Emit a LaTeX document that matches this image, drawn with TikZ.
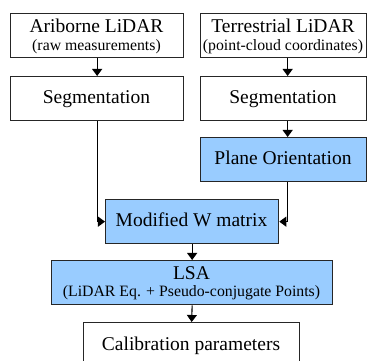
\documentclass[tikz,border=0pt]{standalone}
\usepackage{fontspec}
\setmainfont{Liberation Serif}
\usetikzlibrary{arrows.meta}
\definecolor{boxblue}{RGB}{153,204,255}
\begin{document}
\begin{tikzpicture}[x=1pt,y=-1pt,
  box/.style={draw=black!85, line width=1.3pt, minimum height=44pt, inner sep=0pt, anchor=north west},
  bluebox/.style={box, fill=boxblue},
  maintext/.style={font=\fontsize{19.5}{22}\selectfont, inner sep=0pt},
  subtext/.style={font=\fontsize{15.8}{18}\selectfont, inner sep=0pt},
  arr/.style={line width=1.1pt, -{Triangle[length=7pt,width=10pt]}}]
\clip (0,0) rectangle (368,361);
% boxes
\node[box, minimum width=173pt] (a1) at (10,13) {};
\node[box, minimum width=166pt] (t1) at (200,13) {};
\node[box, minimum width=173pt] (s1) at (10,76) {};
\node[box, minimum width=166pt] (s2) at (200,76) {};
\node[bluebox, minimum width=166pt] (p) at (200,137) {};
\node[bluebox, minimum width=173pt] (w) at (105,199) {};
\node[bluebox, minimum width=281pt] (lsa) at (51,260) {};
\node[box, minimum width=216pt] (cal) at (83,322) {};
% texts
\node[maintext, anchor=base] (a1t) at (96.5,32.7) {Ariborne LiDAR};
\node[subtext, anchor=base] (a1s) at (96.5,50.5) {(raw measurements)};
\node[maintext, anchor=base] (t1t) at (283,32.7) {Terrestrial LiDAR};
\node[subtext, anchor=base] (t1s) at (283,50.5) {(point-cloud coordinates)};
\node[maintext, anchor=base] (s1t) at (96.5,104) {Segmentation};
\node[maintext, anchor=base] (s2t) at (283,104) {Segmentation};
\node[maintext, anchor=base] (pt) at (283,165) {Plane Orientation};
\node[maintext, anchor=base] (wt) at (191.5,227) {Modified W matrix};
\node[maintext, anchor=base] (lsat) at (191.5,279.3) {LSA};
\node[subtext, anchor=base] (lsas) at (191.5,297) {(LiDAR Eq. + Pseudo-conjugate Points)};
\node[maintext, anchor=base] (calt) at (191,351) {Calibration parameters};
% connectors
\draw[arr] (a1.south) -- (s1.north);
\draw[arr] ([xshift=4pt]t1.south) -- ([xshift=4pt]s2.north);
\draw[arr] ([xshift=4pt]s2.south) -- ([xshift=4pt]p.north);
\draw[arr] (s1.south) |- (w.west);
\draw[arr] ([xshift=4pt]p.south) |- (w.east);
\draw[arr] (w.south) -- (lsa.north);
\draw[arr] (lsa.south) -- (cal.north);
\end{tikzpicture}
\end{document}
